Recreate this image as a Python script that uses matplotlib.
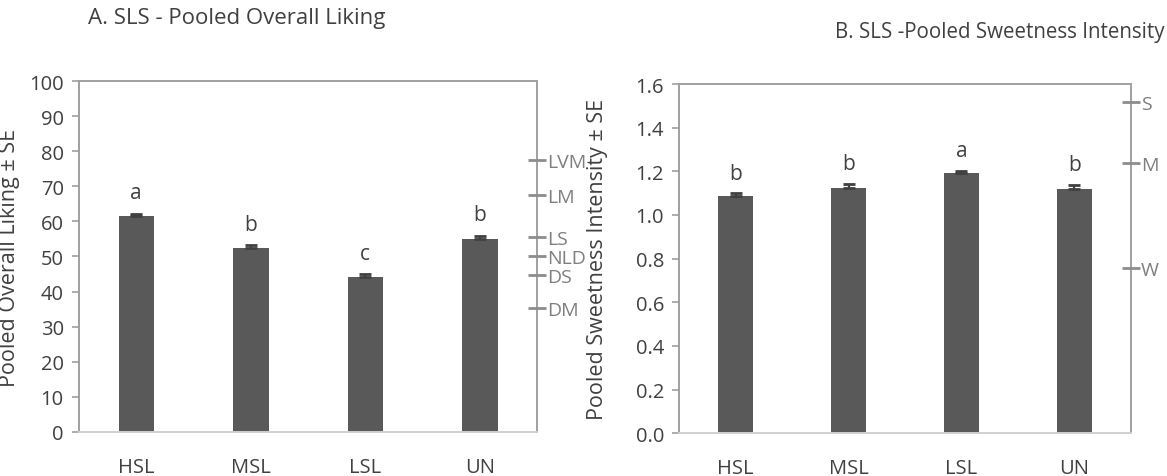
import matplotlib.pyplot as plt
import numpy as np

plt.rcParams['font.family'] = ['Open Sans', 'DejaVu Sans']

# data
groups = ['HSL', 'MSL', 'LSL', 'UN']

liking = [61.5, 52.4, 44.1, 54.9]
liking_se = [0.75, 0.85, 0.8, 1.0]
liking_letters = ['a', 'b', 'c', 'b']
liking_scale = [77.6, 67.6, 55.6, 50.2, 44.8, 35.2]
liking_scale_lbl = ['LVM', 'LM', 'LS', 'NLD', 'DS', 'DM']

sweet = [1.086, 1.124, 1.191, 1.119]
sweet_se = [0.015, 0.02, 0.012, 0.02]
sweet_letters = ['b', 'b', 'a', 'b']
sweet_scale = [1.516, 1.24, 0.756]
sweet_scale_lbl = ['S', 'M', 'W']

bar_col = '#595959'
txt_col = '#404040'
frame_col = '#a0a0a0'


def panel(ax, vals, se, letters, ymax, step, fmt, offset, scale, scale_lbl, ylabel):
    x = np.arange(len(groups))
    ax.bar(x, vals, width=0.31, color=bar_col, zorder=2)
    ax.errorbar(x, vals, yerr=[np.zeros(len(se)), se], fmt='none', ecolor=txt_col,
                elinewidth=1.6, capsize=4.4, capthick=2, zorder=3)
    for xi, v, s, l in zip(x, vals, se, letters):
        ax.text(xi, v + s + offset, l, ha='center', va='baseline', fontsize=15, color=txt_col)
    ax.set_xlim(-0.5, len(groups) - 0.5)
    ax.set_ylim(0, ymax)
    ax.set_yticks(np.arange(0, ymax + step / 2, step))
    ax.yaxis.set_major_formatter(plt.FormatStrFormatter(fmt))
    ax.set_xticks(x)
    ax.set_xticklabels(groups)
    ax.tick_params(axis='x', length=0, pad=18, labelsize=14.5, labelcolor=txt_col)
    ax.tick_params(axis='y', length=5, width=1.2, color=frame_col, labelsize=14.5,
                   labelcolor=txt_col, pad=6)
    for sp in ['left', 'top', 'right']:
        ax.spines[sp].set_color(frame_col)
        ax.spines[sp].set_linewidth(1.4)
    ax.spines['bottom'].set_color('#d0d0d0')
    ax.spines['bottom'].set_linewidth(1.4)
    ax.set_ylabel(ylabel, fontsize=15.5, color=txt_col)

    # secondary verbal scale on the right border
    ax2 = ax.twinx()
    ax2.set_ylim(0, ymax)
    ax2.set_yticks(scale)
    ax2.set_yticklabels(scale_lbl)
    ax2.tick_params(axis='y', direction='inout', length=13, width=2, color='#8c8c8c',
                    labelsize=14, labelcolor='#7f7f7f', pad=1)
    for sp in ax2.spines.values():
        sp.set_visible(False)


fig = plt.figure(figsize=(11.67, 4.77), dpi=100)
ax1 = fig.add_axes([0.0677, 0.0929, 0.3925, 0.7346])
ax2 = fig.add_axes([0.5821, 0.0895, 0.3868, 0.7323])

panel(ax1, liking, liking_se, liking_letters, 100, 10, '%d', 4.4,
      liking_scale, liking_scale_lbl, 'Pooled Overall Liking \u00b1 SE')
panel(ax2, sweet, sweet_se, sweet_letters, 1.6, 0.2, '%.1f', 0.065,
      sweet_scale, sweet_scale_lbl, 'Pooled Sweetness Intensity \u00b1 SE')

ax1.yaxis.set_label_coords(-0.128, 0.5)
ax2.yaxis.set_label_coords(-0.157, 0.5)

fig.text(0.203, 0.962, 'A. SLS - Pooled Overall Liking', ha='center', va='center',
         fontsize=16, color=txt_col)
fig.text(0.998, 0.932, 'B. SLS -Pooled Sweetness Intensity', ha='right', va='center',
         fontsize=14.8, color=txt_col)

fig.savefig('out.png', dpi=100)
